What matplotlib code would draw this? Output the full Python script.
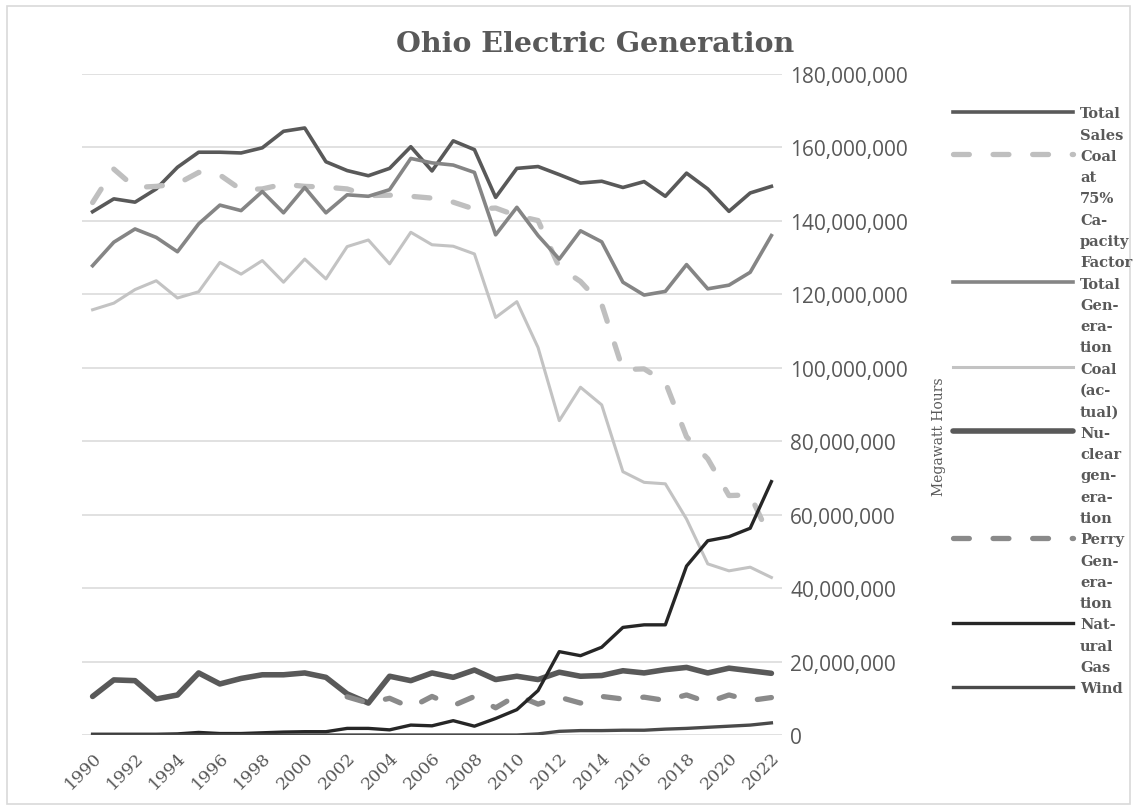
import numpy as np
import matplotlib.pyplot as plt
from matplotlib.lines import Line2D
from matplotlib.patches import Rectangle
from matplotlib.ticker import FuncFormatter

W, H = 1137, 812

years = list(range(1990, 2023))

# Annual values, million MWh
total_sales = [142.5, 146.0, 145.1, 148.7, 154.6, 158.7, 158.7, 158.5, 159.9, 164.4,
               165.3, 156.1, 153.7, 152.3, 154.3, 160.2, 153.6, 161.8, 159.4, 146.4,
               154.3, 154.8, 152.6, 150.3, 150.8, 149.1, 150.7, 146.7, 153.0, 148.7,
               142.6, 147.6, 149.4]
coal_75 = [145.0, 154.1, 149.1, 149.4, 150.1, 153.2, 152.5, 148.5, 148.7, 150.0,
           149.4, 149.2, 148.7, 146.9, 147.0, 146.7, 146.2, 145.1, 143.2, 143.5,
           141.4, 140.1, 127.4, 123.5, 117.3, 99.5, 99.7, 96.1, 81.2, 75.2,
           65.2, 65.4, 52.9]
total_gen = [127.8, 134.2, 137.8, 135.5, 131.6, 139.2, 144.3, 142.8, 148.0, 142.2,
             149.1, 142.2, 147.1, 146.7, 148.5, 157.0, 155.8, 155.2, 153.2, 136.2,
             143.7, 136.0, 129.6, 137.3, 134.3, 123.3, 119.8, 120.8, 128.1, 121.5,
             122.5, 126.0, 136.0]
coal_actual = [115.8, 117.6, 121.3, 123.7, 119.0, 120.7, 128.7, 125.5, 129.2, 123.3,
               129.6, 124.2, 133.0, 134.8, 128.3, 136.9, 133.5, 133.1, 131.0, 113.7,
               118.0, 105.5, 85.6, 94.7, 89.9, 71.7, 68.8, 68.4, 58.8, 46.6,
               44.7, 45.7, 42.9]
nuclear = [10.5, 15.0, 14.8, 9.8, 10.9, 16.9, 13.9, 15.4, 16.4, 16.4,
           16.9, 15.7, 11.2, 8.7, 16.0, 14.8, 16.9, 15.7, 17.7, 15.1,
           16.0, 15.1, 17.1, 16.0, 16.2, 17.5, 16.9, 17.8, 18.4, 16.9,
           18.2, 17.5, 16.8]
perry_years = list(range(2002, 2023))
perry = [10.4, 8.7, 10.0, 7.5, 10.5, 8.0, 10.5, 7.4, 10.8, 8.4,
         10.3, 8.7, 10.5, 9.8, 10.3, 9.4, 10.9, 8.9, 10.9, 9.4, 10.2]
natural_gas = [0.2, 0.2, 0.2, 0.2, 0.3, 0.7, 0.4, 0.4, 0.6, 0.8,
               0.9, 0.9, 1.8, 1.8, 1.4, 2.7, 2.5, 3.9, 2.4, 4.5,
               6.9, 12.1, 22.7, 21.6, 23.9, 29.3, 30.0, 30.0, 46.0, 52.9,
               54.0, 56.3, 69.0]
wind = [0.0] * 21 + [0.3, 1.0, 1.2, 1.2, 1.3, 1.3, 1.6, 1.8, 2.1, 2.4, 2.7, 3.3]

labels = ['Total\nSales', 'Coal\nat\n75%\nCa-\npacity\nFactor', 'Total\nGen-\nera-\ntion',
          'Coal\n(ac-\ntual)', 'Nu-\nclear\ngen-\nera-\ntion', 'Perry\nGen-\nera-\ntion',
          'Nat-\nural\nGas', 'Wind']

M = 1e6
series = [
    (years, total_sales, dict(color='#595959', lw=2.6)),
    (years, coal_75, dict(color='#bfbfbf', lw=3.8, dashes=(3, 4.5), dash_capstyle='round')),
    (years, total_gen, dict(color='#858585', lw=2.6)),
    (years, coal_actual, dict(color='#c3c3c3', lw=2.2)),
    (years, nuclear, dict(color='#595959', lw=4.0, solid_capstyle='round')),
    (perry_years, perry, dict(color='#8a8a8a', lw=3.8, dashes=(3, 4.5), dash_capstyle='round')),
    (years, natural_gas, dict(color='#262626', lw=2.4)),
    (years, wind, dict(color='#4a4a4a', lw=2.4)),
]

fig = plt.figure(figsize=(W / 100, H / 100), dpi=100)
ax = fig.add_axes([82 / W, 1 - 736 / H, 700 / W, 661 / H])

for xs, vals, style in series:
    ax.plot(xs, np.array(vals) * M, **style)

ax.set_xlim(1989.5, 2022.5)
ax.set_ylim(0, 180 * M)
ax.set_yticks(np.arange(0, 181, 20) * M)
ax.yaxis.set_major_formatter(FuncFormatter(lambda v, p: f'{v:,.0f}'))
ax.yaxis.tick_right()
ax.tick_params(axis='y', length=0, pad=6, labelsize=15, labelcolor='#595959')
for t in ax.get_yticklabels():
    t.set_family('Open Sans')

ax.set_xticks(years[::2])
ax.set_xticklabels([str(y) for y in years[::2]], rotation=45, ha='right',
                   rotation_mode='anchor', family='DejaVu Serif', fontsize=12.5,
                   color='#595959')
ax.tick_params(axis='x', length=0, pad=10)

ax.grid(axis='y', color='#d9d9d9', lw=1.1)
ax.set_axisbelow(True)
for s in ax.spines.values():
    s.set_visible(False)

fig.text(595 / W, 1 - 45 / H, 'Ohio Electric Generation', ha='center', va='center',
         family='DejaVu Serif', weight='bold', fontsize=20.5, color='#595959')
fig.text(939 / W, 1 - 437 / H, 'Megawatt Hours', rotation=90, ha='center', va='center',
         family='DejaVu Serif', fontsize=10, color='#595959')

# legend drawn by hand so each key sits on the first line of its label
line_h = 21.3
row = 0
for (xs, vals, style), lab in zip(series, labels):
    yc = 1 - (112.7 + row * line_h) / H
    fig.add_artist(Line2D([953 / W, 1073 / W], [yc, yc], transform=fig.transFigure, **style))
    for i, part in enumerate(lab.split('\n')):
        fig.text(1080 / W, 1 - (112.7 + (row + i) * line_h) / H, part, ha='left',
                 va='center_baseline', family='DejaVu Serif', weight='bold',
                 fontsize=10.5, color='#595959')
    row += len(lab.split('\n'))

fig.add_artist(Rectangle((7 / W, 7 / H), 1123 / W, 798 / H, transform=fig.transFigure,
                         fill=False, ec='#d9d9d9', lw=1.2))

fig.savefig('out.png', dpi=100)
